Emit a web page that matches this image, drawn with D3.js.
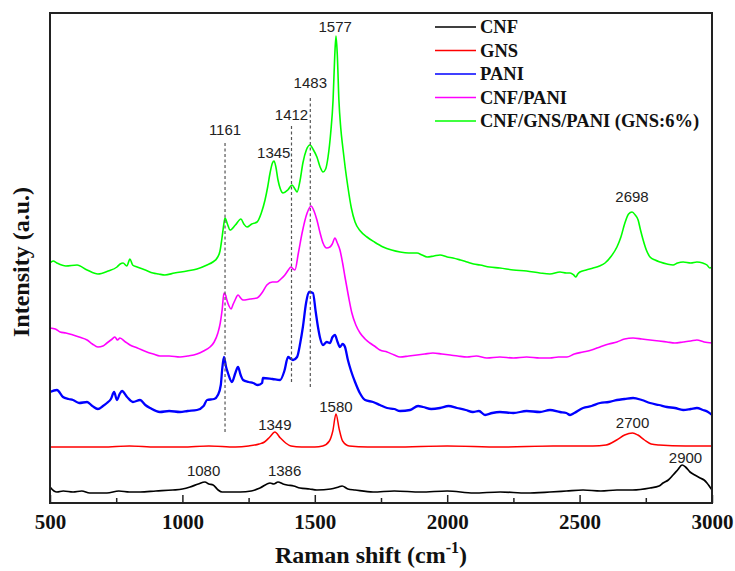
<!DOCTYPE html>
<html><head><meta charset="utf-8">
<script src="https://cdn.jsdelivr.net/npm/d3@7"></script>
<style>html,body{margin:0;padding:0;background:#fff;}svg{display:block;}</style>
</head><body>
<svg id="chart" width="735" height="571"></svg>
<script>
// ---- data (Raman shift cm^-1, intensity a.u. with offsets) ----
const seriesNames = ["CNF", "GNS", "PANI", "CNF/PANI", "CNF/GNS/PANI (GNS:6%)"];
const seriesColors = ["#000000", "#ff0000", "#0000ff", "#ff00ff", "#00ff00"];
const xTicks = [500, 1000, 1500, 2000, 2500, 3000];

const cnf = [[500,16],[515,12],[526,11],[550,12],[587,11],[620,12],[650,10],[715,10],[760,12],[800,11],[840,11],[900,12],[964,13],[1000,14],[1029,16],[1060,19],[1085,21],[1100,19],[1116,18],[1135,13],[1150,11],[1218,11],[1260,12],[1293,15],[1331,20],[1345,19],[1361,21],[1380,19],[1395,18],[1420,17],[1444,15],[1480,14],[1508,13],[1560,14],[1590,16],[1603,17],[1625,14],[1652,13],[1720,11],[1800,12],[1900,11],[2000,12],[2100,10],[2200,11],[2300,10],[2388,11],[2450,12],[2513,13],[2580,12],[2641,13],[2700,13],[2766,15],[2800,17],[2815,20],[2835,23],[2853,28],[2870,33],[2887,38],[2900,36],[2917,31],[2935,28],[2955,25],[2970,23],[2981,20],[2992,16],[3000,13]];
const gns = [[500,56],[600,56],[700,56],[800,57],[900,56],[1000,56],[1100,57],[1200,56],[1250,57],[1290,59],[1310,61],[1330,66],[1349,71],[1370,65],[1390,60],[1410,57],[1450,56],[1500,56],[1530,57],[1555,62],[1568,72],[1580,89],[1592,74],[1605,62],[1630,57],[1700,56],[1800,56],[2000,57],[2200,56],[2400,57],[2550,57],[2600,58],[2640,63],[2670,68],[2700,70],[2720,68],[2745,63],[2770,59],[2800,58],[2900,57],[3000,57]];
const pani = [[500,111],[526,113],[549,106],[570,104],[587,103],[610,100],[640,101],[660,97],[681,94],[700,97],[715,100],[730,104],[742,111],[753,103],[763,109],[772,112],[791,106],[813,101],[840,103],[860,98],[878,95],[915,91],[950,92],[991,91],[1020,92],[1055,93],[1080,97],[1093,103],[1120,104],[1134,108],[1145,118],[1150,133],[1157,146],[1165,136],[1172,130],[1187,121],[1200,130],[1210,136],[1220,128],[1229,123],[1250,121],[1267,120],[1285,118],[1301,120],[1304,125],[1340,124],[1369,123],[1385,132],[1399,146],[1410,144],[1418,143],[1433,146],[1445,160],[1455,176],[1467,200],[1478,211],[1493,210],[1503,192],[1512,176],[1520,165],[1531,158],[1545,161],[1557,160],[1567,166],[1576,168],[1586,161],[1595,156],[1605,159],[1614,156],[1625,143],[1637,132],[1652,121],[1670,110],[1690,103],[1720,101],[1746,98],[1773,95],[1800,94],[1822,92],[1860,93],[1890,97],[1909,96],[1940,94],[1973,95],[2005,97],[2037,95],[2070,93],[2097,91],[2120,92],[2143,88],[2170,90],[2199,91],[2250,90],[2300,92],[2350,91],[2388,93],[2426,91],[2450,90],[2464,88],[2480,90],[2513,95],[2545,97],[2577,100],[2610,101],[2641,103],[2670,104],[2702,105],[2735,103],[2766,100],[2800,98],[2830,96],[2860,95],[2891,93],[2920,94],[2943,95],[2966,93],[2985,91],[3000,88]];
const cnfPani = [[500,175],[520,174],[538,171],[560,170],[587,168],[610,166],[640,163],[660,159],[681,156],[700,157],[715,160],[735,164],[745,166],[755,163],[764,165],[785,161],[802,158],[830,155],[866,151],[890,149],[915,147],[950,147],[991,146],[1020,147],[1055,149],[1080,152],[1104,156],[1120,161],[1134,170],[1143,180],[1150,193],[1157,210],[1163,208],[1168,203],[1176,197],[1184,194],[1192,199],[1199,203],[1210,208],[1220,205],[1229,203],[1255,204],[1282,205],[1300,210],[1319,218],[1340,221],[1357,221],[1372,224],[1387,228],[1400,233],[1410,236],[1418,234],[1425,233],[1438,250],[1452,270],[1471,290],[1486,297],[1497,292],[1508,283],[1520,270],[1531,260],[1545,255],[1557,256],[1566,259],[1576,265],[1585,260],[1595,253],[1605,240],[1614,226],[1627,207],[1640,190],[1655,178],[1671,170],[1690,164],[1708,160],[1730,156],[1746,153],[1773,151],[1800,148],[1822,146],[1855,147],[1886,148],[1915,149],[1946,150],[1980,149],[2011,148],[2040,147],[2075,146],[2110,147],[2150,145],[2199,146],[2250,145],[2300,146],[2350,145],[2388,145],[2420,146],[2452,146],[2480,149],[2513,151],[2545,153],[2577,156],[2610,159],[2641,161],[2670,164],[2702,165],[2735,164],[2766,163],[2800,162],[2830,161],[2860,160],[2891,161],[2920,162],[2943,163],[2970,161],[3000,160]];
const cnfGnsPani = [[500,240],[512,242],[526,240],[560,237],[602,238],[640,233],[681,229],[720,232],[753,236],[765,239],[776,240],[790,237],[802,244],[812,238],[829,236],[860,233],[889,230],[910,229],[934,228],[970,230],[1017,232],[1055,234],[1093,238],[1115,241],[1131,245],[1142,252],[1150,266],[1156,278],[1161,285],[1170,279],[1180,273],[1200,278],[1221,284],[1232,279],[1244,276],[1262,279],[1282,281],[1298,290],[1312,303],[1322,316],[1331,330],[1340,340],[1346,342],[1353,336],[1361,323],[1370,314],[1380,310],[1398,313],[1414,318],[1425,314],[1433,311],[1444,322],[1455,340],[1468,353],[1482,358],[1495,353],[1508,346],[1520,336],[1531,331],[1541,334],[1550,346],[1560,370],[1569,403],[1575,445],[1580,467],[1585,448],[1591,403],[1598,375],[1606,355],[1615,335],[1625,316],[1638,295],[1652,281],[1672,272],[1697,266],[1725,261],[1758,256],[1790,253],[1822,251],[1855,250],[1886,250],[1905,248],[1924,246],[1950,247],[1973,248],[2000,246],[2022,245],[2050,243],[2075,241],[2100,239],[2124,238],[2160,236],[2199,235],[2250,233],[2300,232],[2350,230],[2388,229],[2426,231],[2450,230],[2464,230],[2478,228],[2486,226],[2493,229],[2501,231],[2525,233],[2551,235],[2575,237],[2596,240],[2620,247],[2641,256],[2656,266],[2671,280],[2685,289],[2698,291],[2710,288],[2721,283],[2730,273],[2740,263],[2752,253],[2766,246],[2785,243],[2804,241],[2830,239],[2853,238],[2870,240],[2891,241],[2920,240],[2943,241],[2965,240],[2981,238],[2992,235],[3000,236]];
const seriesData = [cnf, gns, pani, cnfPani, cnfGnsPani];

// peak annotations: [label, wavenumber, intensity at label baseline]
const peakLabels = [["1577",1577,471],["1483",1483,415],["1412",1412,383],["1161",1161,368],["1345",1345,345],["2698",2698,301],["1349",1349,73],["1580",1580,91],["2700",2700,75],["1080",1080,27],["1386",1386,27],["2900",2900,40]];
// dashed guide lines: [wavenumber, top intensity, bottom intensity]
const guideLines = [[1161,360,71],[1412,377,120],[1483,405,116]];

// ---- layout ----
const svg = d3.select("#chart");
const L = 50, R = 712, T = 13, B = 503;
const x = d3.scaleLinear().domain([500, 3000]).range([L, R]);
const y = d3.scaleLinear().domain([0, 490]).range([B, T]);

// curves
const line = d3.line().x(d => x(d[0])).y(d => y(d[1])).curve(d3.curveMonotoneX);
const widths = [1.7, 1.5, 2.3, 1.6, 1.6];
seriesData.forEach((s, i) => {
  svg.append("path").datum(s).attr("d", line)
    .attr("fill", "none").attr("stroke", seriesColors[i])
    .attr("stroke-width", widths[i]).attr("stroke-linejoin", "round");
});

// dashed guides
guideLines.forEach(g => {
  svg.append("line").attr("x1", x(g[0])).attr("x2", x(g[0]))
    .attr("y1", y(g[1])).attr("y2", y(g[2]))
    .attr("stroke", "#555").attr("stroke-width", 1.2).attr("stroke-dasharray", "3,2.5");
});

// peak labels
peakLabels.forEach(p => {
  svg.append("text").attr("x", x(p[1])).attr("y", y(p[2]))
    .attr("text-anchor", "middle").attr("font-family", "Liberation Sans, Arial, sans-serif")
    .attr("font-size", 15).attr("fill", "#222").text(p[0]);
});

// axes
const xMajor = d3.axisBottom(x).tickValues(xTicks).tickSize(-8).tickPadding(11).tickFormat(d3.format("d"));
const gx = svg.append("g").attr("transform", `translate(0,${B})`).call(xMajor);
gx.select(".domain").remove();
gx.selectAll("line").attr("stroke", "#222").attr("stroke-width", 1.5);
gx.selectAll("text").attr("font-family", "Liberation Serif, Times New Roman, serif")
  .attr("font-weight", "bold").attr("font-size", 21).attr("fill", "#111").attr("dy", "0.71em");
const minor = d3.range(750, 3000, 500);
const gxm = svg.append("g").attr("transform", `translate(0,${B})`)
  .call(d3.axisBottom(x).tickValues(minor).tickSize(-5).tickFormat(""));
gxm.select(".domain").remove();
gxm.selectAll("line").attr("stroke", "#222").attr("stroke-width", 1.5);

// frame
svg.append("rect").attr("x", L).attr("y", T).attr("width", R - L).attr("height", B - T)
  .attr("fill", "none").attr("stroke", "#222").attr("stroke-width", 2);

// axis titles
const xt = svg.append("text").attr("x", 371).attr("y", 563).attr("text-anchor", "middle")
  .attr("font-family", "Liberation Serif, Times New Roman, serif").attr("font-weight", "bold")
  .attr("font-size", 24).attr("fill", "#111");
xt.append("tspan").text("Raman shift (cm");
xt.append("tspan").attr("font-size", 16).attr("dy", -10).text("-1");
xt.append("tspan").attr("dy", 10).text(")");

svg.append("text").attr("transform", "translate(29,262) rotate(-90)").attr("text-anchor", "middle")
  .attr("font-family", "Liberation Serif, Times New Roman, serif").attr("font-weight", "bold")
  .attr("font-size", 24).attr("fill", "#111").text("Intensity (a.u.)");

// legend
const lg = svg.append("g");
seriesNames.forEach((n, i) => {
  const yy = 27 + i * 23.5;
  lg.append("line").attr("x1", 435).attr("x2", 476).attr("y1", yy).attr("y2", yy)
    .attr("stroke", seriesColors[i]).attr("stroke-width", 1.6);
  lg.append("text").attr("x", 480).attr("y", yy).attr("dy", "0.35em")
    .attr("font-family", "Liberation Serif, Times New Roman, serif").attr("font-weight", "bold")
    .attr("font-size", 18.5).attr("fill", "#111").text(n);
});
</script>
</body></html>
